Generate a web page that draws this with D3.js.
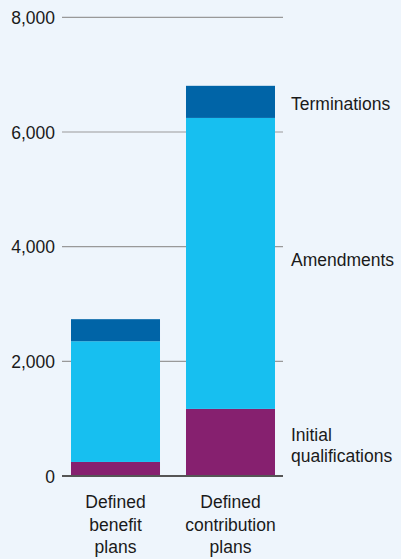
<!DOCTYPE html>
<html><head><meta charset="utf-8">
<script src="https://cdn.jsdelivr.net/npm/d3@7"></script>
<style>
html,body{margin:0;padding:0;background:#eef5fc;}
svg{display:block;font-family:"Liberation Sans",Arial,sans-serif;}
</style></head>
<body>
<svg id="c" width="401" height="559"></svg>
<script>
const categories = [["Defined","benefit","plans"],["Defined","contribution","plans"]];
const seriesNames = [["Initial","qualifications"],["Amendments"],["Terminations"]];
const initialQualifications = [245, 1170];
const amendments = [2105, 5075];
const terminations = [385, 560];
const yTicks = [0, 2000, 4000, 6000, 8000];
const colors = ["#86206f", "#17bff0", "#0064a7"];

const FS = 17.5;
const svg = d3.select("#c");
const x0 = 62, x1 = 283;
const y = d3.scaleLinear().domain([0, 8000]).range([476, 17.3]);
const x = d3.scaleBand().domain([0,1]).range([71, 275]).paddingInner(0.226).paddingOuter(0);

// gridlines
const yAxis = d3.axisLeft(y).tickValues(yTicks).tickSize(0).tickFormat(d3.format(","));
svg.append("g").selectAll("line").data(yTicks.filter(d=>d>0)).join("line")
  .attr("x1", x0).attr("x2", x1).attr("y1", d=>y(d)).attr("y2", d=>y(d))
  .attr("stroke", "#999").attr("stroke-width", 1.2);

const ag = svg.append("g").attr("transform", `translate(55,0)`).call(yAxis);
ag.select(".domain").remove();
ag.selectAll("text").attr("font-size", FS).attr("fill", "#1a1a1a")
  .attr("font-family", '"Liberation Sans",Arial,sans-serif').attr("dy", "0.36em").attr("x", 0);

// stacked bars
const rows = [0,1].map(i => ({i, a: initialQualifications[i], b: amendments[i], c: terminations[i]}));
const stack = d3.stack().keys(["a","b","c"])(rows);
svg.append("g").selectAll("g").data(stack).join("g").attr("fill", (d,k)=>colors[k])
  .selectAll("rect").data(d=>d).join("rect")
  .attr("x", d=>x(d.data.i)).attr("width", x.bandwidth())
  .attr("y", d=>y(d[1])).attr("height", d=>y(d[0])-y(d[1]));

// baseline
svg.append("line").attr("x1", x0).attr("x2", x1).attr("y1", y(0)).attr("y2", y(0))
  .attr("stroke", "#555").attr("stroke-width", 2);

// category labels
categories.forEach((lines, i) => {
  const cx = x(i)+x.bandwidth()/2;
  const t = svg.append("text").attr("text-anchor","middle").attr("font-size",FS).attr("fill","#1a1a1a")
    .attr("x", cx).attr("y", 508);
  lines.forEach((l, j) => t.append("tspan").attr("x", cx).attr("dy", j?22.5:0).text(l));
});

// series labels to the right of the DC bar
const labelY = [441, 266, 110];
seriesNames.forEach((lines, k) => {
  const t = svg.append("text").attr("font-size",FS).attr("fill","#1a1a1a").attr("x",291).attr("y",labelY[k]);
  lines.forEach((l, j) => t.append("tspan").attr("x",291).attr("dy", j?21:0).text(l));
});
</script>
</body></html>
